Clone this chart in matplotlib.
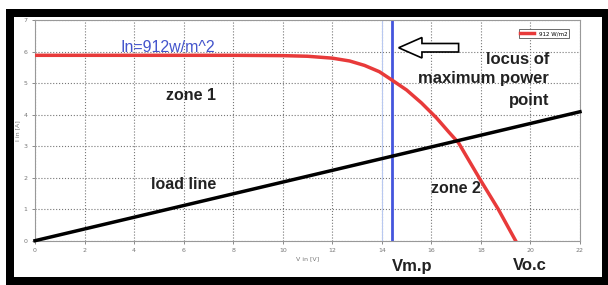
import matplotlib.pyplot as plt
from matplotlib.patches import Rectangle, FancyArrow

# I-V curve of the panel
v_pv = [0, 2, 4, 6, 8, 10, 11, 12, 12.7, 13.3, 13.9, 14.4, 15.0, 15.6, 16.2, 16.7, 17.1, 18.0, 18.7, 19.4]
i_pv = [5.88, 5.88, 5.88, 5.88, 5.88, 5.87, 5.85, 5.79, 5.7, 5.56, 5.36, 5.1, 4.78, 4.37, 3.9, 3.45, 3.1, 1.9, 1.0, 0.0]

# load line
v_load = [0, 22]
i_load = [0, 4.09]

v_mp = 14.4
v_mp_faint = 14.0
x_ticks = list(range(0, 23, 2))
y_ticks = list(range(0, 8))

W, H = 608, 285
fig = plt.figure(figsize=(W / 100, H / 100), dpi=100)
fig.patch.set_facecolor('white')

# black screenshot frame
fig.patches.append(Rectangle((6 / W, 0), 1 - 6 / W, 1 - 9 / H, transform=fig.transFigure,
                             facecolor='black', edgecolor='none', zorder=-3))
fig.patches.append(Rectangle((14 / W, 8 / H), (602 - 14) / W, (277 - 17) / H,
                             transform=fig.transFigure, facecolor='white', edgecolor='none', zorder=-2))

ax = fig.add_axes([35 / W, 1 - 240.7 / H, (580 - 35) / W, (240.7 - 20) / H])
ax.set_facecolor('white')
ax.set_xlim(0, 22)
ax.set_ylim(0, 7)
ax.set_xticks(x_ticks)
ax.set_yticks(y_ticks)
ax.tick_params(labelsize=4.5, colors='#777777', length=2, width=0.6)
ax.grid(True, linestyle=':', color='#777777', linewidth=0.8)
for s in ax.spines.values():
    s.set_color('#999999')
    s.set_linewidth(0.8)
ax.set_xlabel('V in [V]', fontsize=4.5, color='#777777', labelpad=2)
ax.set_ylabel('I in [A]', fontsize=4.5, color='#777777', labelpad=2)

# faint line + maximum power voltage line
ax.axvline(v_mp_faint, color='#b8c8f0', linewidth=0.8)
ax.axvline(v_mp, color='#4455dd', linewidth=2)

ax.plot(v_pv, i_pv, color='#e83a3a', linewidth=2.5, label='912 W/m2', zorder=3)
ax.plot(v_load, i_load, color='black', linewidth=2.5, zorder=4, clip_on=False)

leg = ax.legend(loc='upper right', fontsize=4, handlelength=2.5, borderpad=0.3,
                fancybox=False, framealpha=1, bbox_to_anchor=(0.985, 0.97))
leg.get_frame().set_edgecolor('#555555')
leg.get_frame().set_linewidth(0.6)

bold = dict(fontsize=11.5, fontweight='bold', color='#222222', family='Liberation Sans')
ax.text(5.36, 6.12, 'In=912w/m^2', fontsize=11.5, color='#4455cc', ha='center', va='center',
        family='Liberation Sans')
ax.text(6.3, 4.6, 'zone 1', ha='center', va='center', **bold)
ax.text(6.0, 1.77, 'load line', ha='center', va='center', **bold)
ax.text(17.0, 1.67, 'zone 2', ha='center', va='center', **bold)
big = dict(bold, fontsize=12)
ax.text(20.75, 5.74, 'locus of', ha='right', va='center', **big)
ax.text(20.75, 5.16, 'maximum power', ha='right', va='center', **big)
ax.text(20.75, 4.46, 'point', ha='right', va='center', **big)

ax.add_patch(FancyArrow(17.1, 6.12, -2.42, 0, width=0.27, head_width=0.65, head_length=0.94,
                        length_includes_head=True, facecolor='white', edgecolor='black',
                        linewidth=1.2, zorder=5))

fig.text(412 / W, 1 - 267 / H, 'Vm.p', ha='center', va='center', **big)
fig.text(530 / W, 1 - 265 / H, 'Vo.c', ha='center', va='center', **big)

fig.savefig('out.png', dpi=100)
